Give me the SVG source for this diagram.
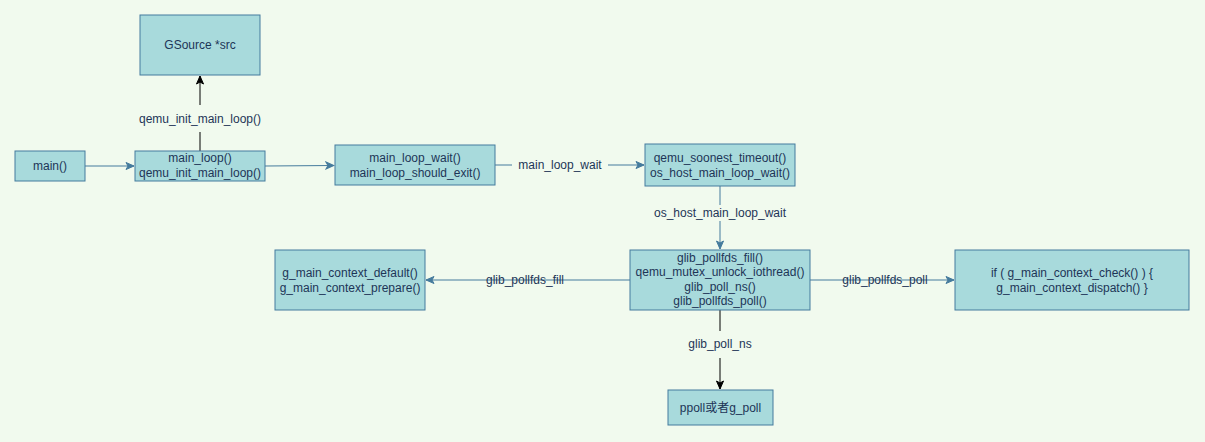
<svg xmlns="http://www.w3.org/2000/svg" width="1205" height="442" viewBox="0 0 1205 442">
<style>
.box{fill:#A8DADC;stroke:#457B9D;stroke-width:1}
text{font-family:"Liberation Sans",Arial,sans-serif;font-size:12px;fill:#1D3557;text-anchor:middle;dominant-baseline:central}
.e{fill:none;stroke:#457B9D;stroke-width:1}
.k{fill:none;stroke:#000000;stroke-width:1}
.lbg{fill:#F1FAEE}
</style>
<defs>
<marker id="ab" viewBox="0 0 10 10" refX="9" refY="5" markerWidth="10" markerHeight="10" markerUnits="userSpaceOnUse" orient="auto">
<path d="M1,1.5 L9,5 L1,8.5 L3,5 Z" fill="#457B9D" stroke="#457B9D"/>
</marker>
<marker id="ak" viewBox="0 0 10 10" refX="9" refY="5" markerWidth="10" markerHeight="10" markerUnits="userSpaceOnUse" orient="auto">
<path d="M1,1.5 L9,5 L1,8.5 L3,5 Z" fill="#000000" stroke="#000000"/>
</marker>
</defs>
<rect width="1205" height="442" fill="#F1FAEE"/>
<g id="connectors">
<path class="e" d="M85,166 L134,166" marker-end="url(#ab)"/>
<path class="e" d="M265,166 L334,165.5" marker-end="url(#ab)"/>
<path class="e" d="M495,165 L644,165" marker-end="url(#ab)"/>
<rect class="lbg" x="512" y="157" width="96" height="16"/>
<text x="560" y="165">main_loop_wait</text>
<path class="e" d="M720,185 L720,249" marker-end="url(#ab)"/>
<rect class="lbg" x="652" y="205" width="136" height="16"/>
<text x="720" y="213">os_host_main_loop_wait</text>
<path class="e" d="M630,280 L426,280" marker-end="url(#ab)"/>
<text x="525" y="280">glib_pollfds_fill</text>
<path class="e" d="M810,280 L954,280" marker-end="url(#ab)"/>
<text x="885" y="280">glib_pollfds_poll</text>
<path class="k" d="M200,155 L200,76" marker-end="url(#ak)"/>
<rect class="lbg" x="136" y="105" width="128" height="27"/>
<text x="200" y="119">qemu_init_main_loop()</text>
<path class="k" d="M720,310 L720,389" marker-end="url(#ak)"/>
<rect class="lbg" x="682" y="331" width="76" height="27"/>
<text x="720" y="344">glib_poll_ns</text>
</g>
<g id="gsource">
<rect class="box" x="140" y="15" width="120" height="60"/>
<text x="200" y="45">GSource *src</text>
</g>
<g id="main">
<rect class="box" x="15" y="151" width="70" height="30"/>
<text x="50" y="166">main()</text>
</g>
<g id="main_loop">
<rect class="box" x="135" y="151" width="130" height="30"/>
<text x="200" y="158">main_loop()</text>
<text x="200" y="173">qemu_init_main_loop()</text>
</g>
<g id="main_loop_wait">
<rect class="box" x="335" y="145" width="160" height="40"/>
<text x="415" y="158">main_loop_wait()</text>
<text x="415" y="173">main_loop_should_exit()</text>
</g>
<g id="qemu_soonest">
<rect class="box" x="645" y="144" width="150" height="42"/>
<text x="720" y="158">qemu_soonest_timeout()</text>
<text x="720" y="173">os_host_main_loop_wait()</text>
</g>
<g id="glib_pollfds">
<rect class="box" x="630" y="250" width="180" height="60"/>
<text x="720" y="258">glib_pollfds_fill()</text>
<text x="720" y="272">qemu_mutex_unlock_iothread()</text>
<text x="720" y="287">glib_poll_ns()</text>
<text x="720" y="301">glib_pollfds_poll()</text>
</g>
<g id="g_main_context">
<rect class="box" x="275" y="250" width="150" height="60"/>
<text x="350" y="273">g_main_context_default()</text>
<text x="350" y="288">g_main_context_prepare()</text>
</g>
<g id="dispatch">
<rect class="box" x="955" y="250" width="234" height="60"/>
<text x="1072" y="273">if ( g_main_context_check() ) {</text>
<text x="1072" y="288">g_main_context_dispatch() }</text>
</g>
<g id="ppoll">
<rect class="box" x="668" y="390" width="105" height="35"/>
<text x="720.5" y="408" style="font-family:'Liberation Sans','Noto Sans CJK SC',sans-serif">ppoll或者g_poll</text>
</g>
</svg>
